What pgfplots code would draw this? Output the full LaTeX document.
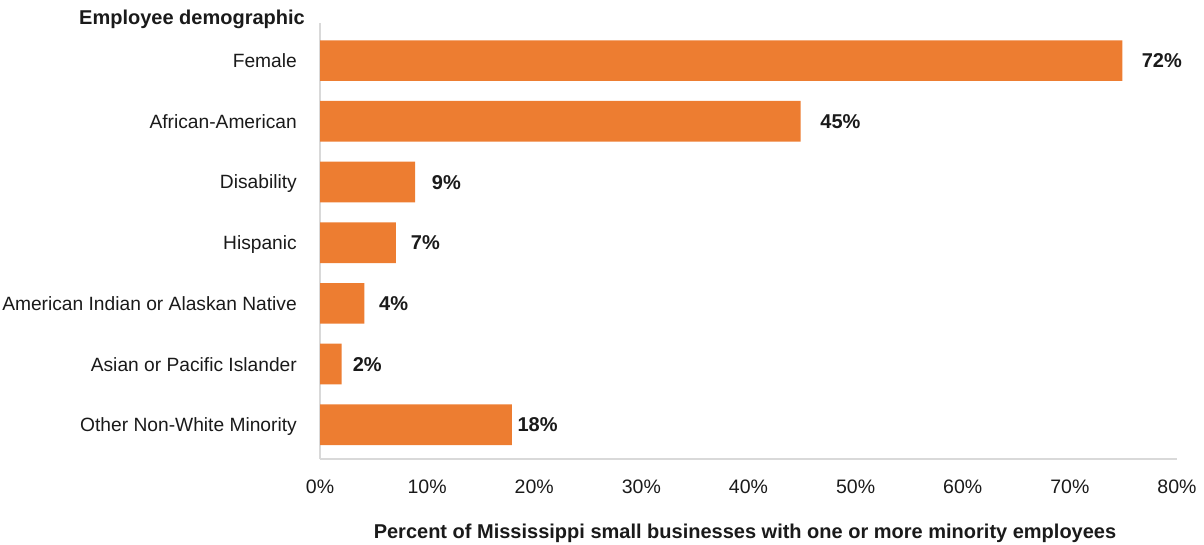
\documentclass[border=0pt]{standalone}
\usepackage{pgfplots}
\pgfplotsset{compat=1.18}
\usepackage{fontspec}
\setmainfont{Liberation Sans}
\definecolor{barorange}{HTML}{ED7D31}
\definecolor{axgray}{HTML}{D9D9D9}
\definecolor{txt}{HTML}{1A1A1A}
\begin{document}
\begin{tikzpicture}
\path[use as bounding box] (0pt,0pt) rectangle (1204pt,544pt);
\begin{axis}[
  at={(320pt,85pt)}, anchor=south west,
  scale only axis, width=857pt, height=436pt,
  xmin=0, xmax=80, ymin=-0.565, ymax=6.62,
  axis x line*=bottom, axis y line*=left,
  axis line style={draw=axgray, line width=1.6pt, -},
  major tick length=0pt,
  xtick={0,10,...,80},
  xticklabels={0\%,10\%,20\%,30\%,40\%,50\%,60\%,70\%,80\%},
  ytick={0,1,2,3,4,5,6},
  yticklabels={Other Non-White Minority,Asian or Pacific Islander,American Indian or Alaskan Native,Hispanic,Disability,African-American,Female},
  xticklabel style={font=\fontsize{19.5}{22}\selectfont, text=txt, anchor=base, inner sep=0pt, yshift=-34pt},
  yticklabel style={font=\fontsize{19.2}{22}\selectfont, text=txt, anchor=base east, inner sep=0pt, xshift=-23pt, yshift=-7pt},
  /pgf/number format/assume math mode=true,
  clip=false,
]
\addplot[xbar, bar width=40.7pt, fill=barorange, draw=none, bar shift=0pt]
  coordinates {(17.9,0) (2.03,1) (4.14,2) (7.09,3) (8.87,4) (44.87,5) (74.9,6)};
\addplot[only marks, mark=none, nodes near coords, point meta=explicit symbolic,
  every node near coord/.style={anchor=base west, inner sep=0pt, yshift=-7.2pt, font=\fontsize{20}{22}\selectfont\bfseries, text=txt}]
  coordinates {(18.42,0) [18\%] (3.05,1) [2\%] (5.51,2) [4\%] (8.47,3) [7\%] (10.43,4) [9\%] (46.7,5) [45\%] (76.7,6) [72\%]};
\end{axis}
\node[anchor=base east, inner sep=0pt, font=\fontsize{20}{22}\selectfont\bfseries, text=txt] at (305pt,519pt) {Employee demographic};
\node[anchor=base, inner sep=0pt, font=\fontsize{20}{22}\selectfont\bfseries, text=txt] at (745pt,6pt) {Percent of Mississippi small businesses with one or more minority employees};
\end{tikzpicture}
\end{document}
